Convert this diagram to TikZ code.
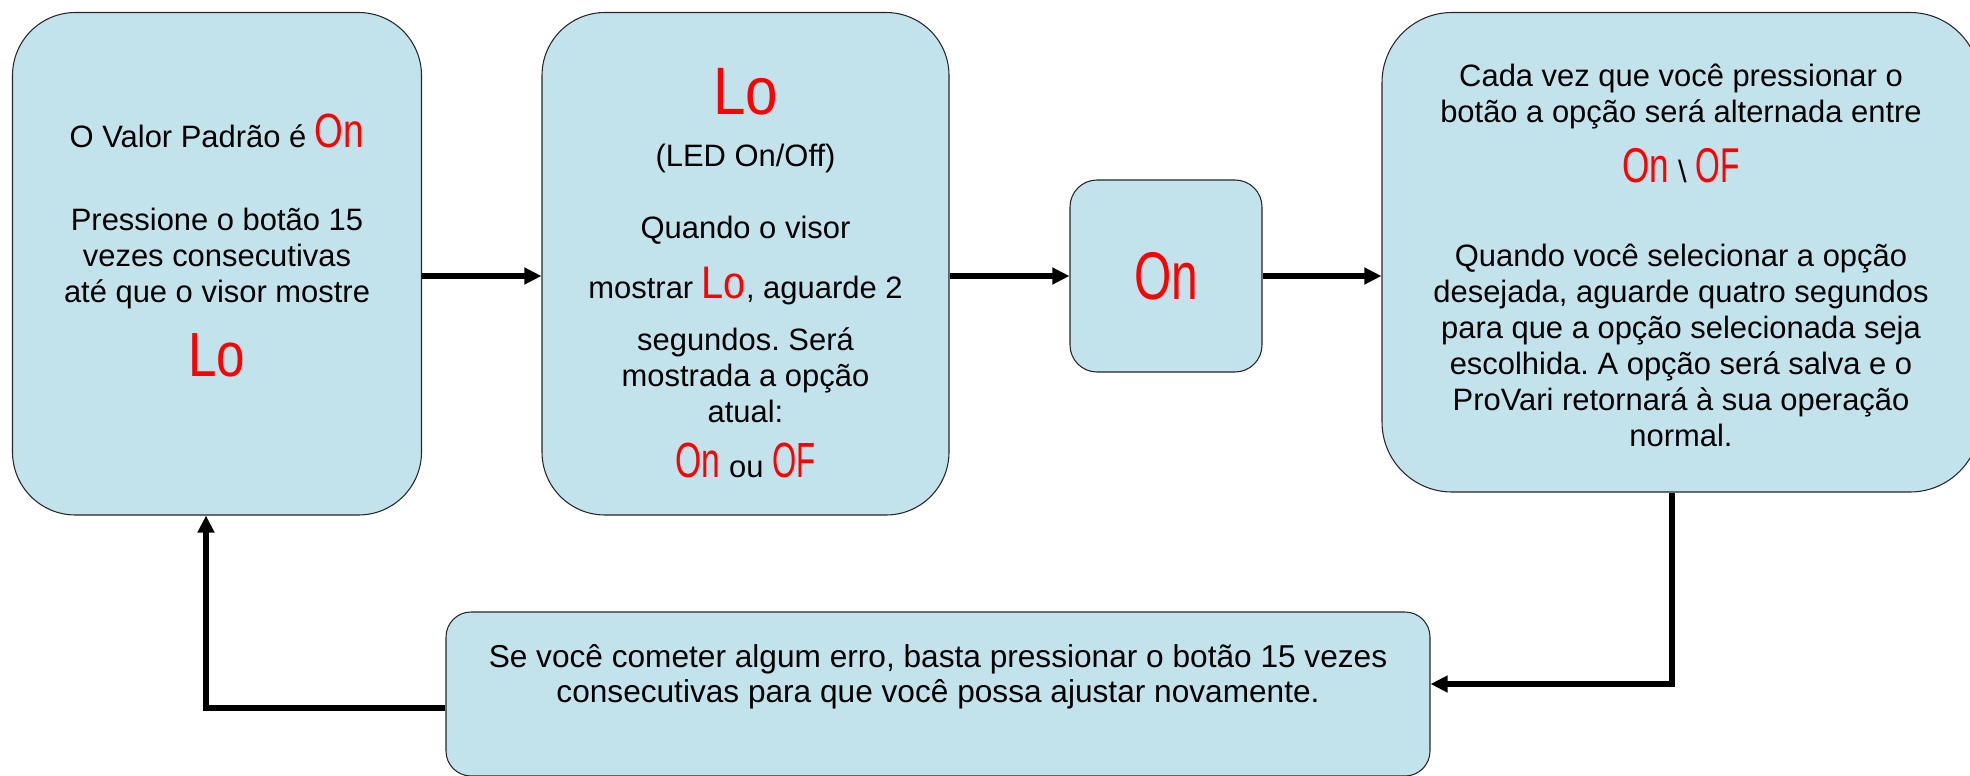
\documentclass[tikz,border=0pt]{standalone}
\usepackage{fontspec}
\setmainfont{Liberation Sans}
\usepackage{graphicx}
\usetikzlibrary{arrows.meta}
\frenchspacing
\definecolor{panelblue}{RGB}{195,227,236}
\newcommand{\segtxt}[3][0.7]{\textcolor{red}{\scalebox{#1}[1]{\fontsize{#2}{#2}\selectfont #3}}}
\tikzstyle{panel} = [rectangle, rounded corners=1.26cm, minimum width=8.18cm, minimum height=10.05cm, draw=black!85, line width=0.6pt, fill=panelblue]
\tikzstyle{txt} = [align=center, inner sep=0pt, font={\fontsize{17.6}{20.5}\selectfont\lineskiplimit-40pt}]
\tikzstyle{arrow} = [line width=3pt, -{Triangle[length=0.34cm, width=0.32cm]}]

\begin{document}
\begin{tikzpicture}[node distance=2cm]
\useasboundingbox (0,0) rectangle (39.4,-15.5);

\node (b1) [panel] at (4.34,-5.275) {};
\node (b2) [panel, right of=b1, xshift=8.57cm, minimum width=8.14cm] {};
\node (b3) [panel, right of=b2, xshift=6.41cm, yshift=-0.245cm, minimum width=3.84cm, minimum height=3.84cm, rounded corners=0.54cm] {\segtxt[0.71]{38.4}{On}};
\node (b4) [panel, right of=b3, xshift=8.30cm, yshift=0.475cm, minimum width=11.96cm, minimum height=9.59cm, rounded corners=1.4cm] {};
\node (b5) [panel, below of=b2, yshift=-6.605cm, xshift=3.85cm, minimum width=19.68cm, minimum height=3.28cm, rounded corners=0.5cm] {};

\node (t1) [txt] at ([yshift=0.36cm]b1) {O Valor Padrão é \segtxt[0.77]{27.3}{On}\\[26.5pt] Pressione o botão 15\\ vezes consecutivas\\ até que o visor mostre\\[22pt] \segtxt[0.82]{35.5}{Lo}};
\node (t2) [txt] at ([yshift=-0.19cm]b2) {\segtxt[0.87]{38.2}{Lo}\\[8.9pt] (LED On/Off)\\[20.6pt] Quando o visor\\[13.7pt] mostrar \segtxt[0.87]{26}{Lo}, aguarde 2\\[9pt] segundos. Será\\ mostrada a opção\\ atual:\\[11pt] \segtxt[0.68]{28.1}{On} ou \segtxt[0.63]{28.1}{OF}};
\node (t4) [txt] at ([yshift=-0.06cm]b4) {Cada vez que você pressionar o\\ botão a opção será alternada entre\\[13.6pt] \segtxt[0.72]{27.8}{On} \textbackslash{} \segtxt[0.65]{27.8}{OF}\\[27pt] Quando você selecionar a opção\\ desejada, aguarde quatro segundos\\ para que a opção selecionada seja\\ escolhida. A opção será salva e o\\ ProVari retornará à sua operação\\ normal.};
\node (t5) [txt, font={\fontsize{18}{20}\selectfont}] at ([yshift=0.34cm]b5) {Se você cometer algum erro, basta pressionar o botão 15 vezes\\ consecutivas para que você possa ajustar novamente.};

\draw [arrow] (b1.east |- b3) -- (b2.west |- b3);
\draw [arrow] (b2.east |- b3) -- (b3.west);
\draw [arrow] (b3.east) -- (b4.west |- b3.east);
\draw [arrow] ([xshift=-0.18cm]b4.south) |- ([yshift=0.2cm]b5.east);
\draw [arrow] ([yshift=-0.28cm]b5.west) -| ([xshift=-0.22cm]b1.south);
\end{tikzpicture}
\end{document}
